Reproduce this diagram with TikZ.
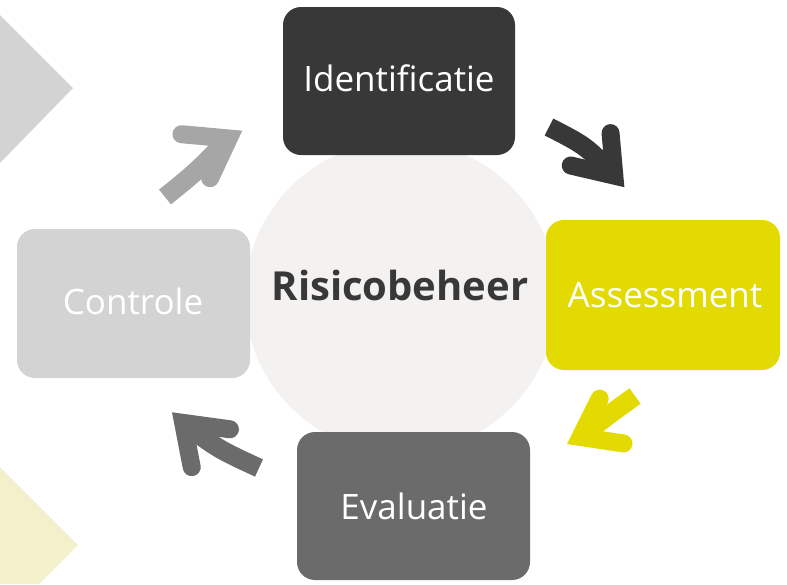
\documentclass[tikz,border=0pt]{standalone}
\usepackage{fontspec}
\setmainfont{Open Sans}
\usetikzlibrary{calc}
\definecolor{darkbox}{HTML}{383838}
\definecolor{yelbox}{HTML}{E2DA00}
\definecolor{midgray}{HTML}{6B6B6B}
\definecolor{ltgray}{HTML}{D3D3D3}
\definecolor{arrgray}{HTML}{A6A6A6}
\definecolor{circfill}{HTML}{F3F2F0}
\definecolor{paleyel}{HTML}{F5F0CC}
\tikzset{
  stepbox/.style={rounded corners=18pt, inner sep=0pt},
  boxtext/.style={text=white, font=\fontsize{35}{40}\selectfont},
  arm/.style={line width=18pt, line cap=round, line join=miter, miter limit=20},
  stem/.style={line width=19pt, line cap=butt},
}
% #1 colour, #2 tail, #3 stem control, #4 tip, #5 arm1, #6 arm2
\newcommand{\bigarrow}[6]{%
  \coordinate (T) at #2;
  \coordinate (P) at #4;
  \coordinate (A1) at #5;
  \coordinate (A2) at #6;
  \coordinate (M) at ($(A1)!0.5!(A2)$);
  \coordinate (V) at ($(P)!22pt!(M)$);
  \draw[#1, stem] (T) .. controls #3 .. (V);
  \draw[#1, arm] ($(A1)!8.5pt!(P)$) -- (V) -- ($(A2)!8.5pt!(P)$);
}
\begin{document}
\begin{tikzpicture}[x=1pt,y=-1pt]
\useasboundingbox (0,0) rectangle (787,584);
% background decorative triangles
\fill[ltgray] (0,15) -- (73,88) -- (0,163) -- cycle;
\fill[paleyel] (0,467) -- (78,545) -- (39,584) -- (0,584) -- cycle;
% central circle
\fill[circfill] (401,297) circle (156);
% boxes
\fill[darkbox, stepbox] (283,7) rectangle (515,155);
\fill[yelbox, stepbox] (546,220) rectangle (780,370);
\fill[midgray, stepbox] (297,432) rectangle (530,580);
\fill[ltgray, stepbox] (17,229) rectangle (250,378);
\node[boxtext] (ident) at (399,78) {Identificatie};
\node[boxtext] (assess) at (665,295) {Assessment};
\node[boxtext] (eval) at (414,506) {Evaluatie};
\node[boxtext] (contr) at (133,301) {Controle};
\node[text=darkbox, font=\bfseries\fontsize{40}{44}\selectfont] (risk) at (400,285) {Risicobeheer};
% arrows
\bigarrow{arrgray}{(165,197)}{(196,172)}{(248,128)}{(173,135)}{(205,185)}
\bigarrow{darkbox}{(549,127)}{(586,146)}{(629,192)}{(608,125)}{(563,162)}
\bigarrow{yelbox}{(635,396)}{(606,417)}{(561,447)}{(605,392)}{(632,443)}
\bigarrow{midgray}{(259,468)}{(218,449)}{(167,408)}{(238,432)}{(195,475)}
\end{tikzpicture}
\end{document}
